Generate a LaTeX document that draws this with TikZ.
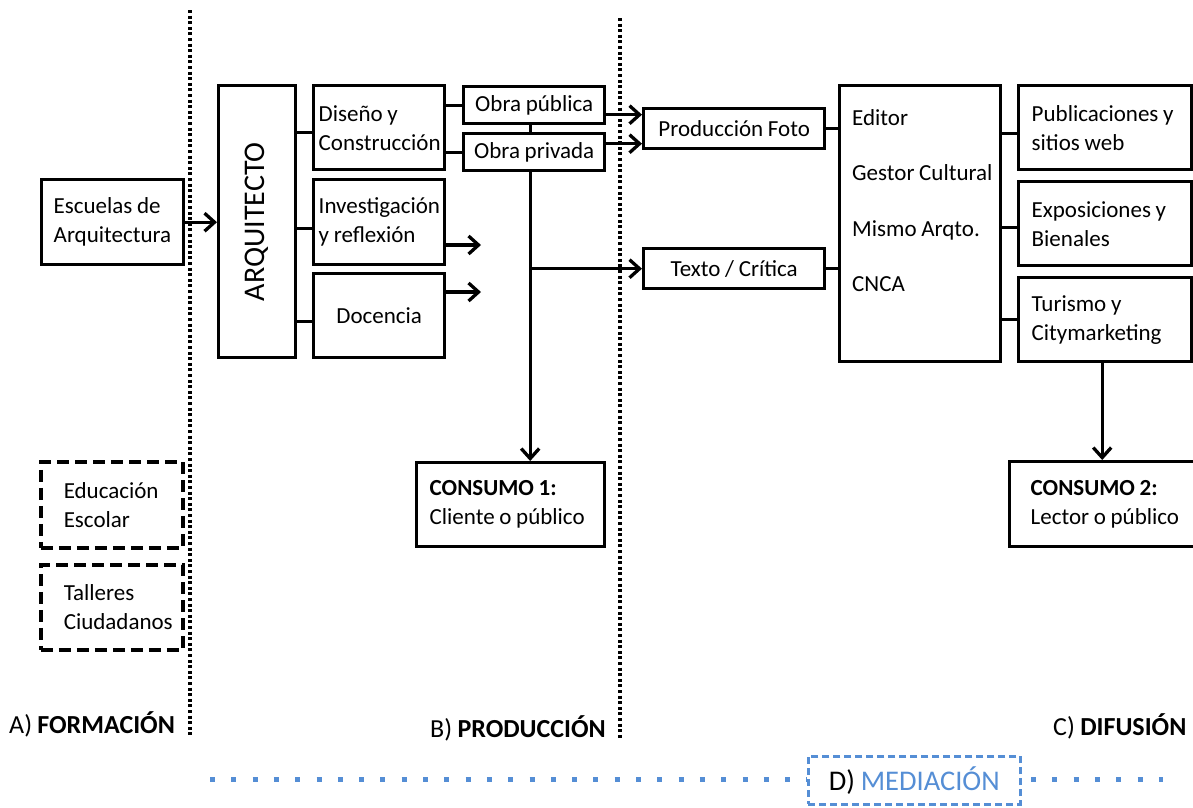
\documentclass[tikz,border=0pt]{standalone}
\usepackage{fontspec}
\usepackage{graphicx}
\setmainfont{Carlito}[WordSpace=0.9]
\usetikzlibrary{arrows.meta,calc}
\definecolor{medblue}{RGB}{85,142,213}
\hyphenpenalty=10000
\exhyphenpenalty=10000
\begin{document}
\begin{tikzpicture}[x=1pt,y=-1pt,
  txt/.style={font=\fontsize{23}{29}\selectfont},
  box/.style={draw, line width=3.4pt, inner sep=0pt, anchor=north west, txt},
  lbox/.style={box, align=flush left},
  dbox/.style={lbox, line width=3.5pt, dash pattern=on 12pt off 6pt},
  conn/.style={line width=3.3pt},
  arr/.style={conn, -{Straight Barb[length=10pt,width=18pt]}},
  sep/.style={line width=3.4pt, dash pattern=on 3pt off 2.6pt},
  bdot/.style={draw=medblue, line width=5pt, dash pattern=on 5pt off 16.3pt},
  lbl/.style={inner sep=0pt, anchor=base west, font=\fontsize{26}{30}\selectfont},
  ]
\useasboundingbox (0,0) rectangle (1193,807);

% --- A) Formacion ---
\node[lbox, minimum width=142pt, minimum height=85pt, text width=118pt] (esc) at (40,178) {Escuelas de\\Arquitectura};
\node[dbox, minimum width=142pt, minimum height=86pt, text width=96pt] (edu) at (39,460) {Educación\\Escolar};
\node[dbox, minimum width=142pt, minimum height=85pt, text width=96pt] (tal) at (39,563) {Talleres\\Ciudadanos};

% --- B) Produccion ---
\node[box, minimum width=77pt, minimum height=272pt, font=\fontsize{30}{36}\selectfont] (arq) at (217,84) {\rotatebox{90}{ARQUITECTO}};
\node[lbox, minimum width=131pt, minimum height=84pt, text width=121pt] (dis) at (312,84) {Diseño y\\Construcción};
\node[lbox, minimum width=131pt, minimum height=85pt, text width=121pt] (inv) at (312,178) {Investigación\\y reflexión};
\node[box, minimum width=131pt, minimum height=84pt] (doc) at (312,272) {Docencia};
\node[box, minimum width=141pt, minimum height=37pt] (opub) at (462,85) {Obra pública};
\node[box, minimum width=141pt, minimum height=37pt] (opriv) at (462,132) {Obra privada};
\node[lbox, minimum width=188pt, minimum height=84pt, text width=162pt] (cons1) at (415,461) {\textbf{CONSUMO 1:}\\Cliente o público};

% --- C) Difusion ---
\node[box, minimum width=181pt, minimum height=40pt] (pfoto) at (642,107) {Producción Foto};
\node[box, minimum width=181pt, minimum height=40pt] (texto) at (642,247) {Texto / Crítica};
\node[box, minimum width=161pt, minimum height=276pt] (med) at (838,84) {};
\node[txt, inner sep=0pt, anchor=base west] (m1) at (852,125) {Editor};
\node[txt, inner sep=0pt, anchor=base west] (m2) at (852,180) {Gestor Cultural};
\node[txt, inner sep=0pt, anchor=base west] (m3) at (852,236) {Mismo Arqto.};
\node[txt, inner sep=0pt, anchor=base west] (m4) at (852,291) {CNCA};
\node[lbox, minimum width=173pt, minimum height=84pt, text width=147pt] (pub) at (1017,84) {Publicaciones y\\sitios web};
\node[lbox, minimum width=173pt, minimum height=84pt, text width=147pt] (expo) at (1017,180) {Exposiciones y\\Bienales};
\node[lbox, minimum width=173pt, minimum height=84pt, text width=147pt] (tur) at (1017,276) {Turismo y\\Citymarketing};
\node[lbox, minimum width=200pt, minimum height=85pt, text width=158pt] (cons2) at (1008,460) {\textbf{CONSUMO 2:}\\Lector o público};

% --- connectors ---
\draw[arr] (esc.east) -- (arq.west |- esc.east);
\coordinate (d1) at ([yshift=-5pt]dis.west);
\coordinate (i1) at ([yshift=-6pt]inv.west);
\coordinate (c1) at ([yshift=-6pt]doc.west);
\draw[conn] (arq.east |- d1) -- (d1);
\draw[conn] (arq.east |- i1) -- (i1);
\draw[conn] (arq.east |- c1) -- (c1);
\draw[conn] (dis.east |- opub.west) -- (opub.west);
\draw[conn] (dis.east |- opriv.west) -- (opriv.west);
\coordinate (ob) at ([xshift=-4pt]opub.south);
\draw[conn] (ob) -- (ob |- opriv.north);
\coordinate (ob2) at ([xshift=-4pt]opriv.south);
\draw[arr] (ob2) -- (ob2 |- cons1.north);
\draw[arr] (ob2 |- texto.west) -- (texto.west);
\coordinate (invA) at (481,245);
\coordinate (docA) at (481,292);
\draw[arr] (inv.east |- invA) -- (invA);
\draw[arr] (doc.east |- docA) -- (docA);
\coordinate (pf1) at ([yshift=14pt]pfoto.west);
\coordinate (pf2) at ([yshift=-15pt]pfoto.west);
\draw[arr] (opub.east |- pf1) -- (pf1);
\draw[arr] (opriv.east |- pf2) -- (pf2);
\draw[conn] (pfoto.east) -- (med.west |- pfoto.east);
\draw[conn] (texto.east) -- (med.west |- texto.east);
\coordinate (p1) at ([yshift=-6pt]pub.west);
\coordinate (e1) at ([yshift=-4pt]expo.west);
\draw[conn] (med.east |- p1) -- (p1);
\draw[conn] (med.east |- e1) -- (e1);
\draw[conn] (med.east |- tur.west) -- (tur.west);
\coordinate (t1) at ([xshift=-3pt]tur.south);
\draw[arr] (t1) -- (t1 |- cons2.north);

% --- section separators ---
\coordinate (s1t) at (190,10);
\coordinate (s1b) at (190,737);
\coordinate (s2t) at (620,18);
\coordinate (s2b) at (620,740);
\draw[sep] (s1t) -- (s1b);
\draw[sep] (s2t) -- (s2b);

% --- section labels ---
\node[lbl] (la) at (9,733) {A) \textbf{FORMACIÓN}};
\node[lbl] (lb) at (430,737) {B) \textbf{PRODUCCIÓN}};
\node[lbl] (lc) at (1053,735) {C) \textbf{DIFUSIÓN}};

% --- D) Mediacion ---
\node[draw=medblue, line width=2.5pt, dash pattern=on 7pt off 4pt, anchor=north west,
      minimum width=212pt, minimum height=48pt, inner sep=0pt,
      font=\fontsize{28.5}{32}\selectfont] (mbox) at (807,755) {D) \textcolor{medblue}{MEDIACIÓN}};
\coordinate (bl) at (210,779);
\coordinate (br) at (1031,779);
\coordinate (be) at (1163,779);
\draw[bdot] (bl) -- (bl -| mbox.west);
\draw[bdot] (br) -- (be);
\end{tikzpicture}
\end{document}
